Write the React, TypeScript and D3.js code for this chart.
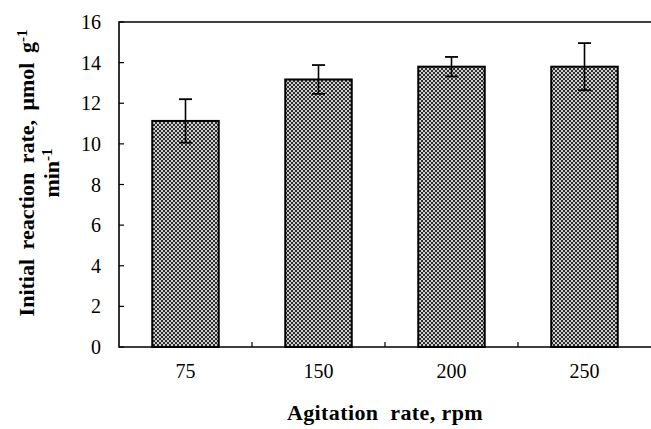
import React, { useRef, useEffect } from "react";
import * as d3 from "d3";

const categories = ["75", "150", "200", "250"];
const rates = [11.13, 13.17, 13.8, 13.8];
const errors = [1.07, 0.71, 0.48, 1.16];
const yTicks = [0, 2, 4, 6, 8, 10, 12, 14, 16];

const App = () => {
  const svgRef = useRef<SVGSVGElement>(null);
  const width = 651;
  const height = 429;

  useEffect(() => {
    document.body.style.margin = "0";
    const margin = { top: 22, right: 0, bottom: 82, left: 119 };
    const innerWidth = width - margin.left - margin.right;
    const innerHeight = height - margin.top - margin.bottom;
    const font = "Liberation Serif, Times New Roman, serif";

    const svg = d3.select(svgRef.current);
    svg.selectAll("*").remove();

    // checkered fill like the original
    const pat = svg.append("defs").append("pattern")
      .attr("id", "checker")
      .attr("width", 4)
      .attr("height", 4)
      .attr("patternUnits", "userSpaceOnUse");
    pat.append("rect").attr("width", 4).attr("height", 4).attr("fill", "#cfcfcf");
    pat.append("rect").attr("width", 2).attr("height", 2).attr("fill", "#2e2e2e");
    pat.append("rect").attr("x", 2).attr("y", 2).attr("width", 2).attr("height", 2).attr("fill", "#2e2e2e");

    const x = d3.scaleBand()
      .domain(categories)
      .range([0, innerWidth])
      .paddingInner(0.5)
      .paddingOuter(0.25);

    const y = d3.scaleLinear().domain([0, 16]).range([innerHeight, 0]);

    const g = svg.append("g")
      .attr("transform", `translate(${margin.left},${margin.top})`);

    // frame: left, top, bottom
    g.append("path")
      .attr("d", `M${innerWidth},0H0V${innerHeight}H${innerWidth}`)
      .attr("fill", "none")
      .attr("stroke", "#000")
      .attr("stroke-width", 1.6);

    // y ticks pointing inward
    g.selectAll(".ytick")
      .data(yTicks)
      .enter()
      .append("line")
      .attr("x1", 0)
      .attr("x2", 5)
      .attr("y1", (d) => y(d))
      .attr("y2", (d) => y(d))
      .attr("stroke", "#000")
      .attr("stroke-width", 1.2);

    g.selectAll(".ylab")
      .data(yTicks)
      .enter()
      .append("text")
      .attr("x", -18)
      .attr("y", (d) => y(d))
      .attr("dy", "0.35em")
      .attr("text-anchor", "end")
      .attr("font-family", font)
      .attr("font-size", 20)
      .text((d) => d);

    // x ticks between bars, pointing up
    const step = x.step();
    const boundaries = categories.slice(1).map((c) => (x(c) as number) - (step * x.paddingInner()) / 2);
    g.selectAll(".xtick")
      .data(boundaries)
      .enter()
      .append("line")
      .attr("x1", (d) => d)
      .attr("x2", (d) => d)
      .attr("y1", innerHeight)
      .attr("y2", innerHeight - 5)
      .attr("stroke", "#000")
      .attr("stroke-width", 1.2);

    g.selectAll(".xlab")
      .data(categories)
      .enter()
      .append("text")
      .attr("x", (d) => (x(d) as number) + x.bandwidth() / 2)
      .attr("y", innerHeight + 24)
      .attr("dy", "0.35em")
      .attr("text-anchor", "middle")
      .attr("font-family", font)
      .attr("font-size", 20)
      .text((d) => d);

    // bars
    g.selectAll(".bar")
      .data(categories)
      .enter()
      .append("rect")
      .attr("x", (d) => x(d) as number)
      .attr("y", (d, i) => y(rates[i]))
      .attr("width", x.bandwidth())
      .attr("height", (d, i) => innerHeight - y(rates[i]))
      .attr("fill", "url(#checker)")
      .attr("stroke", "#000")
      .attr("stroke-width", 2);

    // error bars
    const eb = g.selectAll(".err")
      .data(categories)
      .enter()
      .append("g")
      .attr("transform", (d) => `translate(${(x(d) as number) + x.bandwidth() / 2},0)`);
    eb.append("line")
      .attr("y1", (d, i) => y(rates[i] - errors[i]))
      .attr("y2", (d, i) => y(rates[i] + errors[i]))
      .attr("stroke", "#000")
      .attr("stroke-width", 1.6);
    [1, -1].forEach((s) => {
      eb.append("line")
        .attr("x1", -6.5)
        .attr("x2", 6.5)
        .attr("y1", (d, i) => y(rates[i] + s * errors[i]))
        .attr("y2", (d, i) => y(rates[i] + s * errors[i]))
        .attr("stroke", "#000")
        .attr("stroke-width", 1.8);
    });

    // axis titles
    svg.append("text")
      .attr("x", margin.left + innerWidth / 2)
      .attr("y", 412)
      .attr("dy", "0.35em")
      .attr("text-anchor", "middle")
      .attr("font-family", font)
      .attr("font-weight", "bold")
      .attr("font-size", 22)
      .attr("letter-spacing", 0.4)
      .style("white-space", "pre")
      .text("Agitation  rate, rpm");

    const yt = svg.append("text")
      .attr("transform", "translate(26,173) rotate(-90)")
      .attr("text-anchor", "middle")
      .attr("font-family", font)
      .attr("font-weight", "bold")
      .attr("font-size", 22)
      .attr("word-spacing", 4);
    const l1 = yt.append("tspan").attr("x", 0).attr("y", 0).attr("dy", "0.35em");
    l1.append("tspan").text("Initial reaction rate, μmol g");
    l1.append("tspan").attr("dy", "-0.45em").attr("font-size", 15).text("-1");
    const l2 = yt.append("tspan").attr("x", 0).attr("y", 25).attr("dy", "0.35em");
    l2.append("tspan").text("min");
    l2.append("tspan").attr("dy", "-0.45em").attr("font-size", 15).text("-1");
  }, []);

  return <svg ref={svgRef} width={width} height={height} style={{ display: "block" }}></svg>;
};

export default App;
